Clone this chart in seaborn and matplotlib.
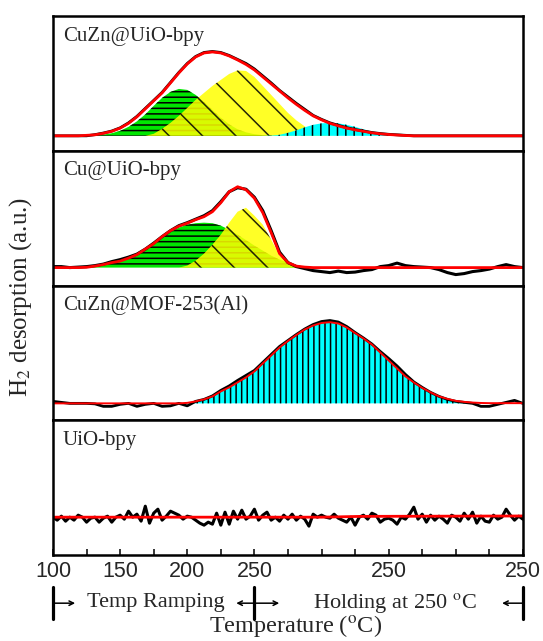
import numpy as np
import matplotlib
matplotlib.use('Agg')
import matplotlib.pyplot as plt
import matplotlib.transforms as mtransforms
from matplotlib.lines import Line2D
import seaborn as sns

# sampling positions along the temperature programme (x axis units)
x_grid = np.arange(100, 450.01, 6.25)
x_fine = np.arange(100, 450.01, 3.125)

panel_names = ['CuZn@UiO-bpy', 'Cu@UiO-bpy', 'CuZn@MOF-253(Al)', 'UiO-bpy']
panel_ylims = [(-15, 120), (-18, 117), (-17, 118), (-38, 97)]

tick_pos = [100, 125, 150, 175, 200, 225, 250, 275, 300, 325, 350, 375, 400, 425, 450]
tick_labels = ['100', '', '150', '', '200', '', '250', '', '', '', '250', '', '', '', '250']

# ---- CuZn@UiO-bpy ----
p1_green = [0, 0, 0, 0, 0.2, 0.5, 1.2, 2.6, 5.0, 9.0, 14.5, 21.5, 30, 38, 44, 47, 46, 41, 34, 26,
            18, 11.5, 6.5, 3.5, 1.6, 0.6, 0.2, 0, 0, 0, 0, 0, 0, 0, 0, 0, 0, 0, 0, 0,
            0, 0, 0, 0, 0, 0, 0, 0, 0, 0, 0, 0, 0, 0, 0, 0, 0]
p1_yellow = [0, 0, 0, 0, 0, 0, 0, 0, 0, 0, 0, 0, 2, 7, 13, 20, 28, 36, 43, 50,
             56, 62, 65.5, 65, 59, 50, 41, 32, 23, 15.5, 9.5, 4.5, 1.5, 0.3, 0, 0, 0, 0, 0, 0,
             0, 0, 0, 0, 0, 0, 0, 0, 0, 0, 0, 0, 0, 0, 0, 0, 0]
p1_cyan = [0, 0, 0, 0, 0, 0, 0, 0, 0, 0, 0, 0, 0, 0, 0, 0, 0, 0, 0, 0,
           0, 0, 0, 0, 0, 0, 0.3, 1, 3, 5.5, 8.5, 11, 12.5, 13, 12.5, 11, 9, 6.5, 4.5, 2.5,
           1.2, 0.4, 0, 0, 0, 0, 0, 0, 0, 0, 0, 0, 0, 0, 0, 0, 0]
p1_fit = [0, 0, 0, 0, 0.5, 1, 2.5, 4.5, 7.7, 12.5, 19, 27, 35, 43, 53, 63, 72, 79, 83, 84,
          83, 80, 76, 71.5, 66, 59, 52, 45, 38, 31.5, 25.5, 20, 16, 12.5, 10, 7.7, 6, 4.5, 3, 2,
          1.3, 0.8, 0.3, 0, 0, 0, 0, 0, 0, 0, 0, 0, 0, 0, 0, 0, 0]
p1_data = [0, 0, 0, 0, 0, 1.2, 2.8, 4.8, 8, 13, 19.5, 27.5, 35.5, 43.5, 53.5, 63.5, 72.5, 79.5, 83.5, 84.5,
           83.5, 80.5, 76.5, 72.5, 67, 60, 53, 45.5, 39, 32.5, 26.5, 20.5, 16.5, 13, 10.5, 8.2, 6.3, 4.8, 3.3, 2.3,
           1.5, 1, 0.5, 0, 0, 0, 0, 0, 0, 0, 0, 0, 0, 0, 0, 0, 0]

# ---- Cu@UiO-bpy ----
p2_green = [0, 0, 0, 0, 0.3, 1.5, 3, 5, 7.5, 10, 13, 18, 24, 30, 35.5, 40, 43, 44.5, 45, 44.5,
            42, 38, 33, 27.5, 22, 17, 12, 8, 5, 2.5, 1, 0.3, 0, 0, 0, 0, 0, 0, 0, 0,
            0, 0, 0, 0, 0, 0, 0, 0, 0, 0, 0, 0, 0, 0, 0, 0, 0]
p2_yellow = [0, 0, 0, 0, 0, 0, 0, 0, 0, 0, 0, 0, 0, 0, 0, 0, 2, 7, 14, 23,
             33, 45, 56, 60, 52, 43, 28, 12, 4, 1.5, 0.5, 0, 0, 0, 0, 0, 0, 0, 0, 0,
             0, 0, 0, 0, 0, 0, 0, 0, 0, 0, 0, 0, 0, 0, 0, 0, 0]
p2_fit = [0, 0, 0, 0, 0.3, 1.5, 3, 5, 6.5, 9.5, 13, 18.5, 24, 31, 37, 41.5, 44.5, 48, 51, 56,
          65, 76, 81, 78, 69.5, 55, 35, 14, 5, 1.5, 0.5, 0, 0, 0, 0, 0, 0, 0, 0, 0,
          0, 0, 0, 0, 0, 0, 0, 0, 0, 0, 0, 0, 0, 0, 0, 0, 0]
p2_data = [1, 1, 0, 0.5, 1, 2, 3.5, 6, 8, 10.5, 13.5, 18.5, 24.5, 31, 37, 42, 45, 48.5, 52, 57,
           66, 76, 80, 78.5, 70.5, 57, 37, 15.5, 5, 1, -1, -3, -4, -5, -3.5, -5, -4.5, -3, -2, 1,
           2, 4.5, 2, 1, 0.5, 0, -2, -5, -7, -6, -4, -3, -1.5, 1, 3, 1, 0]

# ---- CuZn@MOF-253(Al) ----
p3_cyan = [0, 0, 0, 0, 0, 0, 0, 0, 0, 0, 0, 0, 0, 0, 0, 0, 0.5, 2, 4, 7,
           12, 16, 21, 26, 32, 40, 48, 56, 62.5, 68.5, 74, 78, 80.5, 81.3, 80, 76, 70.5, 65, 59, 51,
           43, 35, 27, 21, 15.5, 11, 7, 4.5, 2.5, 1.5, 0.8, 0.4, 0.2, 0.2, 0.2, 0.2, 0.2]
p3_data = [2, 1, 0, 0, 0, -0.5, -3, -3, -1, 0, -3, -1, 0, -3, -2.5, 0, -2.5, 2, 4, 7.5,
           13, 17.5, 23, 28, 33, 41, 49, 57, 63, 69, 74.5, 79, 82, 83, 81.5, 77, 71, 65.5, 59.5, 52,
           45, 37.5, 29, 21.5, 16, 11, 7, 4, 2, 1, 0, -3, -3, -1, 1, 3, 0]

# ---- UiO-bpy (no peak, noise only) ----
p4_data = [0, -3, 1, -4, 0, -3, 2, 0, -5, -1, 0, -5, -1, 1, -5, 0, 2, -2, 6, 0,
           3, -4, 11, -6, 4, 8, -3, 1, 6, 4, 2, -2, 1, 0, -3, -6, -8, -5, -7, 4,
           -8, 5, -7, 6, -2, 7, -2, 1, 8, -3, 2, 5, -3, 0, -4, 2, -2, 3, -3, 1,
           -2, -9, 3, 0, 2, 0, -1, 3, -1, -3, -5, 0, -8, 0, 2, -2, 4, 2, -5, -2,
           -1, -3, -7, 0, -2, 3, 10, -2, 3, -5, 2, -3, 1, -2, -6, 2, 0, -4, 4, -2,
           5, -6, 1, -4, -5, 2, -2, 0, 8, 2, -3, 1, -2]
p4_fit_x = [100, 300, 330, 450]
p4_fit = [0, 0, 0.8, 1.2]

GREEN = '#00e600'
YELLOW = '#ffff00'
CYAN = '#00ffff'
RED = '#ff0000'

sns.set_style('ticks')
plt.rcParams['font.family'] = ['Liberation Serif', 'DejaVu Serif']
plt.rcParams['mathtext.fontset'] = 'stix'
plt.rcParams['hatch.linewidth'] = 1.1
plt.rcParams['hatch.color'] = 'black'

fig, axes = plt.subplots(4, 1, figsize=(5.43, 6.41), dpi=100, sharex=True)
fig.subplots_adjust(left=0.0976, right=0.963, top=0.975, bottom=0.134, hspace=0)

# panel 1
ax = axes[0]
ax.fill_between(x_grid, 0, p1_green, facecolor=GREEN, edgecolor='black', hatch='---', linewidth=0)
ax.fill_between(x_grid, 0, p1_yellow, facecolor=YELLOW, edgecolor='black', hatch='\\', linewidth=0, alpha=0.85)
ax.fill_between(x_grid, 0, p1_cyan, facecolor=CYAN, edgecolor='black', hatch='||', linewidth=0)
sns.lineplot(x=x_grid, y=p1_data, ax=ax, color='black', lw=2.0)
sns.lineplot(x=x_grid, y=p1_fit, ax=ax, color=RED, lw=2)

# panel 2
ax = axes[1]
ax.fill_between(x_grid, 0, p2_green, facecolor=GREEN, edgecolor='black', hatch='---', linewidth=0)
ax.fill_between(x_grid, 0, p2_yellow, facecolor=YELLOW, edgecolor='black', hatch='\\', linewidth=0, alpha=0.85)
sns.lineplot(x=x_grid, y=p2_data, ax=ax, color='black', lw=2.2)
sns.lineplot(x=x_grid, y=p2_fit, ax=ax, color=RED, lw=2)

# panel 3
ax = axes[2]
ax.fill_between(x_grid, 0, p3_cyan, facecolor=CYAN, edgecolor='black', hatch='|||', linewidth=0)
sns.lineplot(x=x_grid, y=p3_data, ax=ax, color='black', lw=2.0)
sns.lineplot(x=x_grid, y=p3_cyan, ax=ax, color=RED, lw=1.4)

# panel 4
ax = axes[3]
sns.lineplot(x=x_fine, y=p4_data, ax=ax, color='black', lw=2.2)
sns.lineplot(x=p4_fit_x, y=p4_fit, ax=ax, color=RED, lw=2)

for ax, name, lim in zip(axes, panel_names, panel_ylims):
    ax.set_xlim(100, 450)
    ax.set_ylim(*lim)
    ax.set_yticks([])
    ax.set_ylabel('')
    for sp in ax.spines.values():
        sp.set_visible(True)
        sp.set_linewidth(1.8)
        sp.set_color('black')
    ax.text(0.021, 0.818, name, transform=ax.transAxes, fontsize=15,
            ha='left', va='baseline')
    ax.tick_params(axis='x', bottom=False, labelbottom=False)

ax = axes[3]
ax.set_xticks(tick_pos)
ax.set_xticklabels(tick_labels)
ax.tick_params(axis='x', bottom=True, labelbottom=True, direction='in', length=4,
               width=1.3, labelsize=15.5, pad=4)
for lab in ax.get_xticklabels():
    lab.set_fontfamily('Liberation Sans')

# programme annotations below the axis
trans = mtransforms.blended_transform_factory(ax.transData, fig.transFigure)
for xb in [100, 250, 450]:
    ax.add_line(Line2D([xb, xb], [0.034, 0.084], transform=trans, color='black',
                       lw=2.3, clip_on=False))
arrow_y = 0.059
arrows = [(100, 116.5), (250, 236.5), (250, 268.5), (450, 434.5)]
for x0, x1 in arrows:
    ax.annotate('', xy=(x1, arrow_y), xytext=(x0, arrow_y),
                xycoords=trans, textcoords=trans,
                arrowprops=dict(arrowstyle='->', lw=1.1, color='black',
                                shrinkA=0, shrinkB=0, mutation_scale=8))
ax.text(176.5, 0.060, 'Temp Ramping', transform=trans, ha='center', va='center', fontsize=16)
ax.text(354.5, 0.060, r'Holding at 250 $^{\rm o}$C', transform=trans, ha='center',
        va='center', fontsize=16)

fig.text(0.545, 0.023, r'Temperature ($^{\rm o}$C)', ha='center', va='center', fontsize=17.5)
fig.text(0.037, 0.537, r'H$_2$ desorption (a.u.)', ha='center', va='center',
         rotation=90, fontsize=18)

fig.savefig('out.png', dpi=100)
